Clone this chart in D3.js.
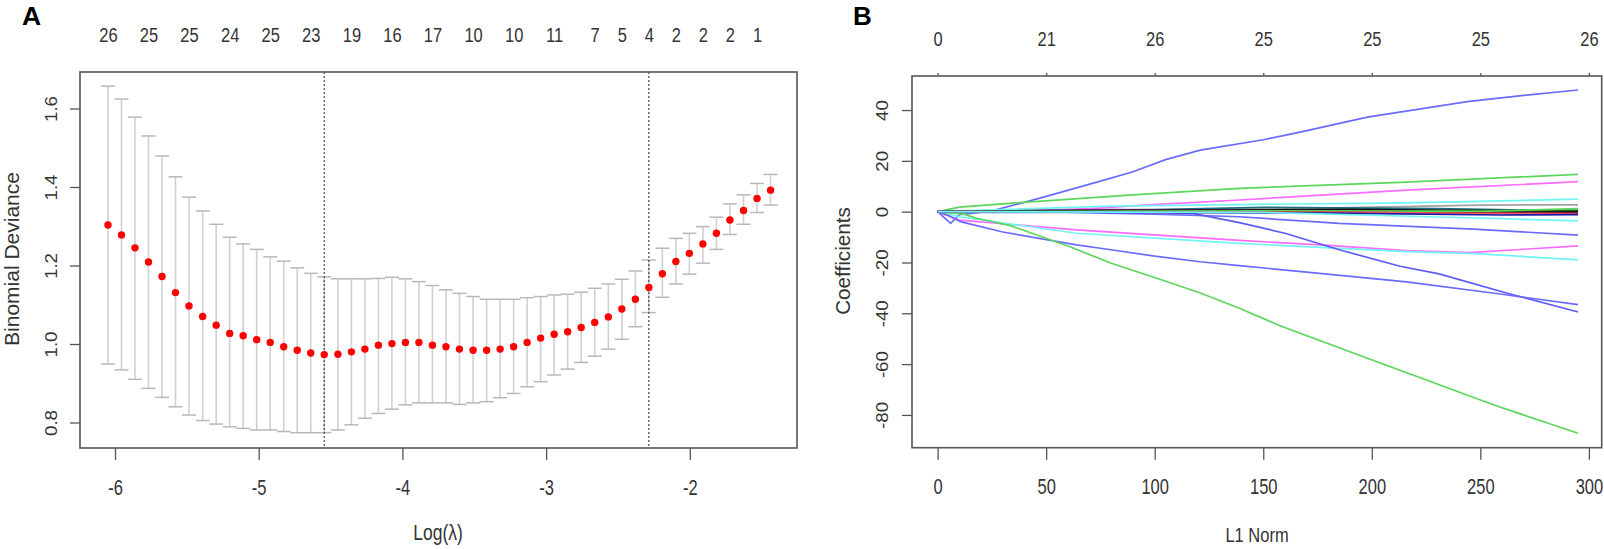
<!DOCTYPE html>
<html>
<head>
<meta charset="utf-8">
<script src="https://cdn.jsdelivr.net/npm/d3@7"></script>
<style>
  body { margin: 0; background: #fff; }
  svg { display: block; font-family: "Liberation Sans", Arial, sans-serif; }
</style>
</head>
<body>
<svg id="chart" width="1604" height="549"></svg>
<script>
// ---- panel A data (cv.glmnet) ----
var lambdaLog = [-6.049, -5.955, -5.861, -5.767, -5.673, -5.579, -5.485, -5.390, -5.296, -5.202,
  -5.108, -5.014, -4.920, -4.826, -4.732, -4.638, -4.544, -4.449, -4.355, -4.261,
  -4.167, -4.073, -3.979, -3.885, -3.791, -3.697, -3.603, -3.508, -3.414, -3.320,
  -3.226, -3.132, -3.038, -2.944, -2.850, -2.756, -2.662, -2.567, -2.473, -2.379,
  -2.285, -2.191, -2.097, -2.003, -1.909, -1.815, -1.721, -1.626, -1.532, -1.438];
var cvMean = [1.303, 1.278, 1.245, 1.209, 1.172, 1.131, 1.097, 1.070, 1.048, 1.027,
  1.021, 1.011, 1.004, 0.993, 0.984, 0.977, 0.973, 0.974, 0.980, 0.987,
  0.997, 1.001, 1.004, 1.004, 0.997, 0.993, 0.987, 0.984, 0.984, 0.987,
  0.993, 1.004, 1.015, 1.025, 1.031, 1.042, 1.055, 1.069, 1.089, 1.114,
  1.144, 1.179, 1.210, 1.231, 1.255, 1.282, 1.316, 1.340, 1.371, 1.392];
var cvUpper = [1.657, 1.624, 1.578, 1.530, 1.479, 1.426, 1.374, 1.339, 1.305, 1.272,
  1.255, 1.241, 1.222, 1.211, 1.194, 1.180, 1.171, 1.166, 1.166, 1.166,
  1.167, 1.170, 1.166, 1.159, 1.149, 1.138, 1.129, 1.121, 1.114, 1.114,
  1.114, 1.118, 1.121, 1.125, 1.127, 1.132, 1.142, 1.153, 1.165, 1.186,
  1.214, 1.244, 1.269, 1.282, 1.299, 1.323, 1.357, 1.380, 1.409, 1.432];
var cvLower = [0.949, 0.934, 0.910, 0.887, 0.864, 0.840, 0.819, 0.805, 0.796, 0.789,
  0.785, 0.781, 0.781, 0.777, 0.774, 0.774, 0.774, 0.781, 0.794, 0.811,
  0.823, 0.834, 0.845, 0.850, 0.850, 0.850, 0.846, 0.850, 0.853, 0.863,
  0.874, 0.891, 0.904, 0.921, 0.936, 0.953, 0.969, 0.987, 1.012, 1.044,
  1.080, 1.119, 1.153, 1.178, 1.206, 1.241, 1.279, 1.305, 1.335, 1.354];
var nzeroIdx = [0, 3, 6, 9, 12, 15, 18, 21, 24, 27, 30, 33, 36, 38, 40, 42, 44, 46, 48];
var nzeroTop = [26, 25, 25, 24, 25, 23, 19, 16, 17, 10, 10, 11, 7, 5, 4, 2, 2, 2, 1];
var lambdaMinLog = -4.544;
var lambda1seLog = -2.285;
var logTicks = [-6, -5, -4, -3, -2];
var devTicks = [0.8, 1.0, 1.2, 1.4, 1.6];

// ---- panel B data (coefficient paths) : [L1 norm, coefficient] ----
var l1Ticks = [0, 50, 100, 150, 200, 250, 300];
var dfTop = [0, 21, 26, 25, 25, 25, 26];
var coefTicks = [40, 20, 0, -20, -40, -60, -80];

var pathBlueTop = [[0, 0], [15, 0.2], [26, 0.5], [50, 6], [75, 12], [90, 15.7], [105, 20.5], [121, 24.2],
  [150, 28.3], [167, 31.3], [198, 37.2], [244, 43.3], [270, 45.8], [295, 47.9]];
var pathGreenUp = [[0, 0], [10, 1.8], [33, 3.3], [90, 6.6], [139, 9.2], [216, 11.6], [295, 14.7]];
var pathMagentaUp = [[0, 0], [40, 0.3], [70, 1.2], [95, 2.6], [139, 4.6], [216, 8.5], [295, 11.8]];
var pathCyanUp = [[0, 0], [30, 0.8], [80, 2.2], [139, 2.8], [216, 3.5], [295, 4.9]];
var pathBlueMid = [[0, 0], [6, -4.6], [10, -1.2], [20, -0.3], [60, -0.3], [100, -1.0], [139, -2],
  [185, -4.6], [247, -6.9], [295, -9.2]];
var pathMagentaLow = [[0, 0], [10, -3.3], [64, -7.2], [139, -11.3], [180, -13.3], [216, -15.3],
  [245, -16.1], [270, -14.8], [295, -13.5]];
var pathCyanLow = [[0, 0], [10, -2], [64, -8.5], [139, -12.5], [216, -15.7], [248, -16.5], [295, -19]];
var pathBlueSteep = [[0, 0], [60, 0], [100, -0.3], [118, -0.8], [139, -4.3], [160, -8.5], [185, -15],
  [213, -21.5], [231, -24.5], [262, -32], [295, -39.5]];
var pathBlueLow = [[0, 0], [5, -1.5], [10.5, -3.9], [30, -8], [64, -13.1], [75, -14.4], [100, -17.5],
  [121, -19.7], [139, -21.2], [170, -23.8], [216, -27.6], [260, -32.5], [295, -36.6]];
var pathGreenLow = [[0, 0], [12, -1], [18, -2.6], [33.5, -5.5], [60, -13.5], [80, -20.3], [102, -26.5],
  [121, -32], [139, -38], [158, -45], [198, -57.7], [256, -76], [295, -87.2]];
var pathGray = [[0, 0], [80, 0.5], [170, 1.3], [250, 2.6], [295, 2.7]];
var pathTeal = [[0, 0], [100, 0.8], [150, 1.7], [230, 1.2], [295, 0.3]];
var pathBlack = [[0, 0], [50, 0.3], [130, 0.6], [190, 0.9], [250, 0.4], [295, 0.2]];
var pathDarkGreen = [[0, 0], [120, 0.1], [200, 0.2], [295, 0.6]];
var pathGreenZero = [[0, 0], [150, 0.3], [250, 0.1], [295, 1.2]];
var pathMaroon = [[0, 0], [150, -0.2], [220, -0.5], [295, -0.6]];
var pathRed = [[0, 0], [200, -0.3], [250, -0.8], [295, -1.0]];
var pathNavy = [[0, 0], [180, -0.6], [260, -1.3], [295, -1.2]];
var pathCyanZero = [[0, 0], [150, -0.3], [240, -2.3], [295, -3.6]];
var pathPurple = [[0, 0], [40, 0.4], [80, 0.8], [130, 0.6], [200, 0.2], [295, -0.2]];

var coefPaths = [pathBlueTop, pathGreenUp, pathMagentaUp, pathCyanUp, pathBlueMid, pathMagentaLow,
  pathCyanLow, pathBlueSteep, pathBlueLow, pathGreenLow, pathGray, pathTeal, pathPurple, pathBlack,
  pathDarkGreen, pathGreenZero, pathMaroon, pathRed, pathNavy, pathCyanZero];
var coefColors = ["#6b6bff", "#5cd65c", "#ff6bff", "#70f5f5", "#6b6bff", "#ff6bff",
  "#70f5f5", "#5c5cf5", "#6b6bff", "#5cd65c", "#a3a3a3", "#1f6f80", "#7a2a7a", "#111111",
  "#1a6b1a", "#5cd65c", "#8b1a1a", "#ff5a5a", "#1a1aa8", "#70f5f5"];

var svg = d3.select("#chart");
var axisCol = "#555";
var textCol = "#333";

function styleAxis(g) {
  g.select(".domain").remove();
  g.selectAll("line").attr("stroke", axisCol).attr("stroke-width", 1.3);
  g.attr("font-family", null).attr("font-size", null);
}

// ================= Panel A =================
var boxA = { left: 80, top: 72, right: 797, bottom: 448 };
var xA = d3.scaleLinear().domain([-6.2436, -1.254]).range([boxA.left, boxA.right]);
var yA = d3.scaleLinear().domain([0.735, 1.693]).range([boxA.bottom, boxA.top]);

var gA = svg.append("g");

var bars = gA.append("g");
lambdaLog.forEach(function (l, i) {
  var x = xA(l);
  bars.append("line").attr("x1", x).attr("x2", x)
    .attr("y1", yA(cvLower[i])).attr("y2", yA(cvUpper[i]))
    .attr("stroke", "#d0d0d0").attr("stroke-width", 1.6);
  [cvLower[i], cvUpper[i]].forEach(function (v) {
    bars.append("line").attr("x1", x - 7).attr("x2", x + 7)
      .attr("y1", yA(v)).attr("y2", yA(v))
      .attr("stroke", "#b8b8b8").attr("stroke-width", 1.5);
  });
});

[lambdaMinLog, lambda1seLog].forEach(function (l) {
  gA.append("line").attr("x1", xA(l)).attr("x2", xA(l))
    .attr("y1", boxA.top).attr("y2", boxA.bottom)
    .attr("stroke", "#444").attr("stroke-width", 1.2).attr("stroke-dasharray", "2,2");
});

gA.selectAll("circle.pt").data(lambdaLog).enter().append("circle")
  .attr("class", "pt")
  .attr("cx", function (d) { return xA(d); })
  .attr("cy", function (d, i) { return yA(cvMean[i]); })
  .attr("r", 3.7).attr("fill", "#ff0000");

gA.append("rect").attr("x", boxA.left).attr("y", boxA.top)
  .attr("width", boxA.right - boxA.left).attr("height", boxA.bottom - boxA.top)
  .attr("fill", "none").attr("stroke", axisCol).attr("stroke-width", 1.6);

var axA1 = gA.append("g").attr("transform", "translate(0," + boxA.bottom + ")")
  .call(d3.axisBottom(xA).tickValues(logTicks).tickSize(12).tickFormat(function (d) { return String(d); }));
styleAxis(axA1);
axA1.selectAll("text").attr("y", 0).attr("dy", "0.35em")
  .attr("transform", "translate(0,39) scale(1,1.3)")
  .attr("font-size", 16.5).attr("fill", textCol);

var axA2 = gA.append("g").attr("transform", "translate(" + boxA.left + ",0)")
  .call(d3.axisLeft(yA).tickValues(devTicks).tickSize(10).tickFormat(d3.format(".1f")));
styleAxis(axA2);
axA2.selectAll("text").attr("x", 0).attr("dy", "0.35em").attr("text-anchor", "middle")
  .attr("transform", "translate(-29,0) rotate(-90) scale(1.1,1)")
  .attr("font-size", 17).attr("fill", textCol);

var axA3 = gA.append("g").attr("transform", "translate(0," + boxA.top + ")")
  .call(d3.axisTop(xA).tickValues(nzeroIdx.map(function (i) { return lambdaLog[i]; }))
    .tickSize(0).tickFormat(function (d, i) { return nzeroTop[i]; }));
styleAxis(axA3);
axA3.selectAll("line").remove();
axA3.selectAll("text").attr("y", 0).attr("dy", "0.35em")
  .attr("transform", "translate(0,-37) scale(1,1.2)")
  .attr("font-size", 16.5).attr("fill", textCol);

gA.append("text").attr("transform", "translate(12,259) rotate(-90)")
  .attr("text-anchor", "middle").attr("dy", "0.35em")
  .attr("font-size", 21).attr("fill", textCol).text("Binomial Deviance");
gA.append("text").attr("transform", "translate(438,532) scale(1,1.25)")
  .attr("text-anchor", "middle").attr("dy", "0.35em")
  .attr("font-size", 17.5).attr("fill", textCol).text("Log(λ)");
gA.append("text").attr("x", 22).attr("y", 25)
  .attr("font-size", 26.5).attr("font-weight", "bold").attr("fill", "#000").text("A");

// ================= Panel B =================
var boxB = { left: 912, top: 76, right: 1601.7, bottom: 447.7 };
var xB = d3.scaleLinear().domain([-11.8, 305.9]).range([boxB.left, boxB.right]);
var yB = d3.scaleLinear().domain([-92.9, 53.4]).range([boxB.bottom, boxB.top]);

var gB = svg.append("g");
var line = d3.line().x(function (d) { return xB(d[0]); }).y(function (d) { return yB(d[1]); });

gB.selectAll("path.coef").data(coefPaths).enter().append("path")
  .attr("class", "coef")
  .attr("d", line)
  .attr("fill", "none")
  .attr("stroke", function (d, i) { return coefColors[i]; })
  .attr("stroke-width", 1.7);

gB.append("rect").attr("x", boxB.left).attr("y", boxB.top)
  .attr("width", boxB.right - boxB.left).attr("height", boxB.bottom - boxB.top)
  .attr("fill", "none").attr("stroke", axisCol).attr("stroke-width", 1.6);

var axB1 = gB.append("g").attr("transform", "translate(0," + boxB.bottom + ")")
  .call(d3.axisBottom(xB).tickValues(l1Ticks).tickSize(12).tickFormat(function (d) { return String(d); }));
styleAxis(axB1);
axB1.selectAll("text").attr("y", 0).attr("dy", "0.35em")
  .attr("transform", "translate(0,39) scale(1,1.3)")
  .attr("font-size", 16.5).attr("fill", textCol);

var axB2 = gB.append("g").attr("transform", "translate(" + boxB.left + ",0)")
  .call(d3.axisLeft(yB).tickValues(coefTicks).tickSize(10).tickFormat(function (d) { return String(d); }));
styleAxis(axB2);
axB2.selectAll("text").attr("x", 0).attr("dy", "0.35em").attr("text-anchor", "middle")
  .attr("transform", "translate(-30,0) rotate(-90) scale(1.1,1)")
  .attr("font-size", 17).attr("fill", textCol);

var axB3 = gB.append("g").attr("transform", "translate(0," + boxB.top + ")")
  .call(d3.axisTop(xB).tickValues(l1Ticks).tickSize(3).tickFormat(function (d, i) { return dfTop[i]; }));
styleAxis(axB3);
axB3.selectAll("text").attr("y", 0).attr("dy", "0.35em")
  .attr("transform", "translate(0,-37) scale(1,1.2)")
  .attr("font-size", 16.5).attr("fill", textCol);

gB.append("text").attr("transform", "translate(843,261) rotate(-90)")
  .attr("text-anchor", "middle").attr("dy", "0.35em")
  .attr("font-size", 20.7).attr("fill", textCol).text("Coefficients");
gB.append("text").attr("transform", "translate(1257,535) scale(1,1.2)")
  .attr("text-anchor", "middle").attr("dy", "0.35em")
  .attr("font-size", 16.5).attr("fill", textCol).text("L1 Norm");
gB.append("text").attr("x", 853).attr("y", 25)
  .attr("font-size", 26).attr("font-weight", "bold").attr("fill", "#000").text("B");
</script>
</body>
</html>
